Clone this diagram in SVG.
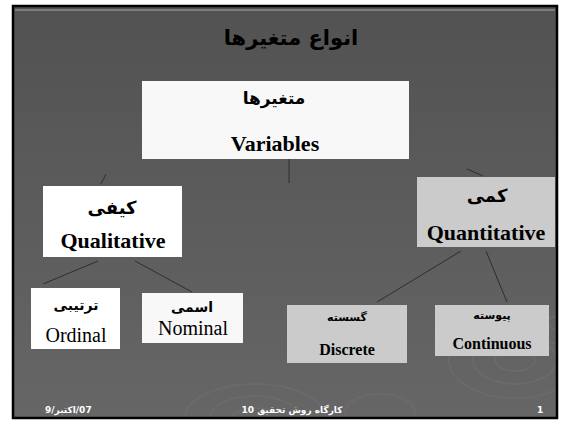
<svg xmlns="http://www.w3.org/2000/svg" width="571" height="426" viewBox="0 0 571 426">
<defs>
<linearGradient id="bg" x1="0" y1="0" x2="0" y2="1">
<stop offset="0" stop-color="#525252"/>
<stop offset="1" stop-color="#666666"/>
</linearGradient>
<clipPath id="slide"><rect x="14" y="7" width="542" height="410"/></clipPath>
<style>
.en{font-family:"Liberation Serif","Times New Roman",serif;fill:#000;text-anchor:middle}
.fa{font-family:"DejaVu Sans","Noto Sans",sans-serif;font-weight:bold;fill:#000;text-anchor:middle}
.w{fill:#f8f8f8}
.g{fill:#cbcbcb}
.conn line{stroke:#2e2e2e;stroke-width:1}
.rip{fill:none;stroke:#767676;stroke-opacity:0.35;stroke-width:2}
.ft{font-family:"DejaVu Sans",sans-serif;font-size:9px;font-weight:bold;fill:#fff}
</style>
</defs>
<rect x="0" y="0" width="571" height="426" fill="#fff"/>
<rect x="13" y="6" width="544" height="412" fill="url(#bg)"/>
<g class="rip" clip-path="url(#slide)">
<ellipse cx="255" cy="418" rx="22" ry="10"/>
<ellipse cx="255" cy="418" rx="45" ry="22"/>
<ellipse cx="255" cy="418" rx="70" ry="34"/>
<ellipse cx="515" cy="360" rx="20" ry="11"/>
<ellipse cx="515" cy="360" rx="42" ry="24"/>
<ellipse cx="515" cy="360" rx="66" ry="38"/>
<ellipse cx="380" cy="412" rx="35" ry="18"/>
<ellipse cx="560" cy="330" rx="20" ry="14"/>
</g>
<rect x="13" y="6" width="544" height="412" fill="none" stroke="#000" stroke-width="2.5"/>
<line x1="15" y1="10" x2="555" y2="10" stroke="#a8a8a8" stroke-width="1"/>
<text x="291" y="45" class="fa" font-size="21">انواع متغیرها</text>
<g id="conns" class="conn">
<line x1="289" y1="159" x2="289" y2="183"/>
<line x1="106" y1="174" x2="101" y2="184"/>
<line x1="467" y1="169" x2="483" y2="176"/>
<line x1="98" y1="261" x2="43" y2="284"/>
<line x1="135" y1="261" x2="192" y2="292"/>
<line x1="461" y1="251" x2="377" y2="302"/>
<line x1="486" y1="251" x2="507" y2="302"/>
</g>
<g id="variables">
<rect x="142" y="81" width="267" height="78" class="w"/>
<text x="274" y="104" class="fa" font-size="17">متغیرها</text>
<text x="275" y="151" class="en" font-size="22" font-weight="bold">Variables</text>
</g>
<g id="qualitative">
<rect x="43" y="186" width="139" height="71" fill="#fff"/>
<text x="112" y="214" class="fa" font-size="18">کیفی</text>
<text x="113" y="248" class="en" font-size="22" font-weight="bold">Qualitative</text>
</g>
<g id="quantitative">
<rect x="417" y="177" width="138" height="70" class="g"/>
<text x="487" y="202" class="fa" font-size="18">کمی</text>
<text x="486" y="240" class="en" font-size="22" font-weight="bold">Quantitative</text>
</g>
<g id="ordinal">
<rect x="31" y="288" width="89" height="61" fill="#fff"/>
<text x="76" y="310" class="fa" font-size="14">ترتیبی</text>
<text x="76" y="342" class="en" font-size="20">Ordinal</text>
</g>
<g id="nominal">
<rect x="142" y="293" width="101" height="50" class="w"/>
<text x="192" y="312" class="fa" font-size="14">اسمی</text>
<text x="193" y="335" class="en" font-size="20">Nominal</text>
</g>
<g id="discrete">
<rect x="287" y="305" width="120" height="58" class="g"/>
<text x="347" y="321" class="fa" font-size="11">گسسته</text>
<text x="347" y="355" class="en" font-size="16" font-weight="bold">Discrete</text>
</g>
<g id="continuous">
<rect x="435" y="305" width="114" height="51" class="g"/>
<text x="492" y="319" class="fa" font-size="11">پیوسته</text>
<text x="492" y="349" class="en" font-size="16" font-weight="bold">Continuous</text>
</g>
<text x="45" y="413" class="ft">9/&#x200E;اکتبر&#x200E;/07</text>
<text x="292" y="413" class="ft" text-anchor="middle">کارگاه روش تحقیق 10</text>
<text x="537" y="413" class="ft">1</text>
</svg>
